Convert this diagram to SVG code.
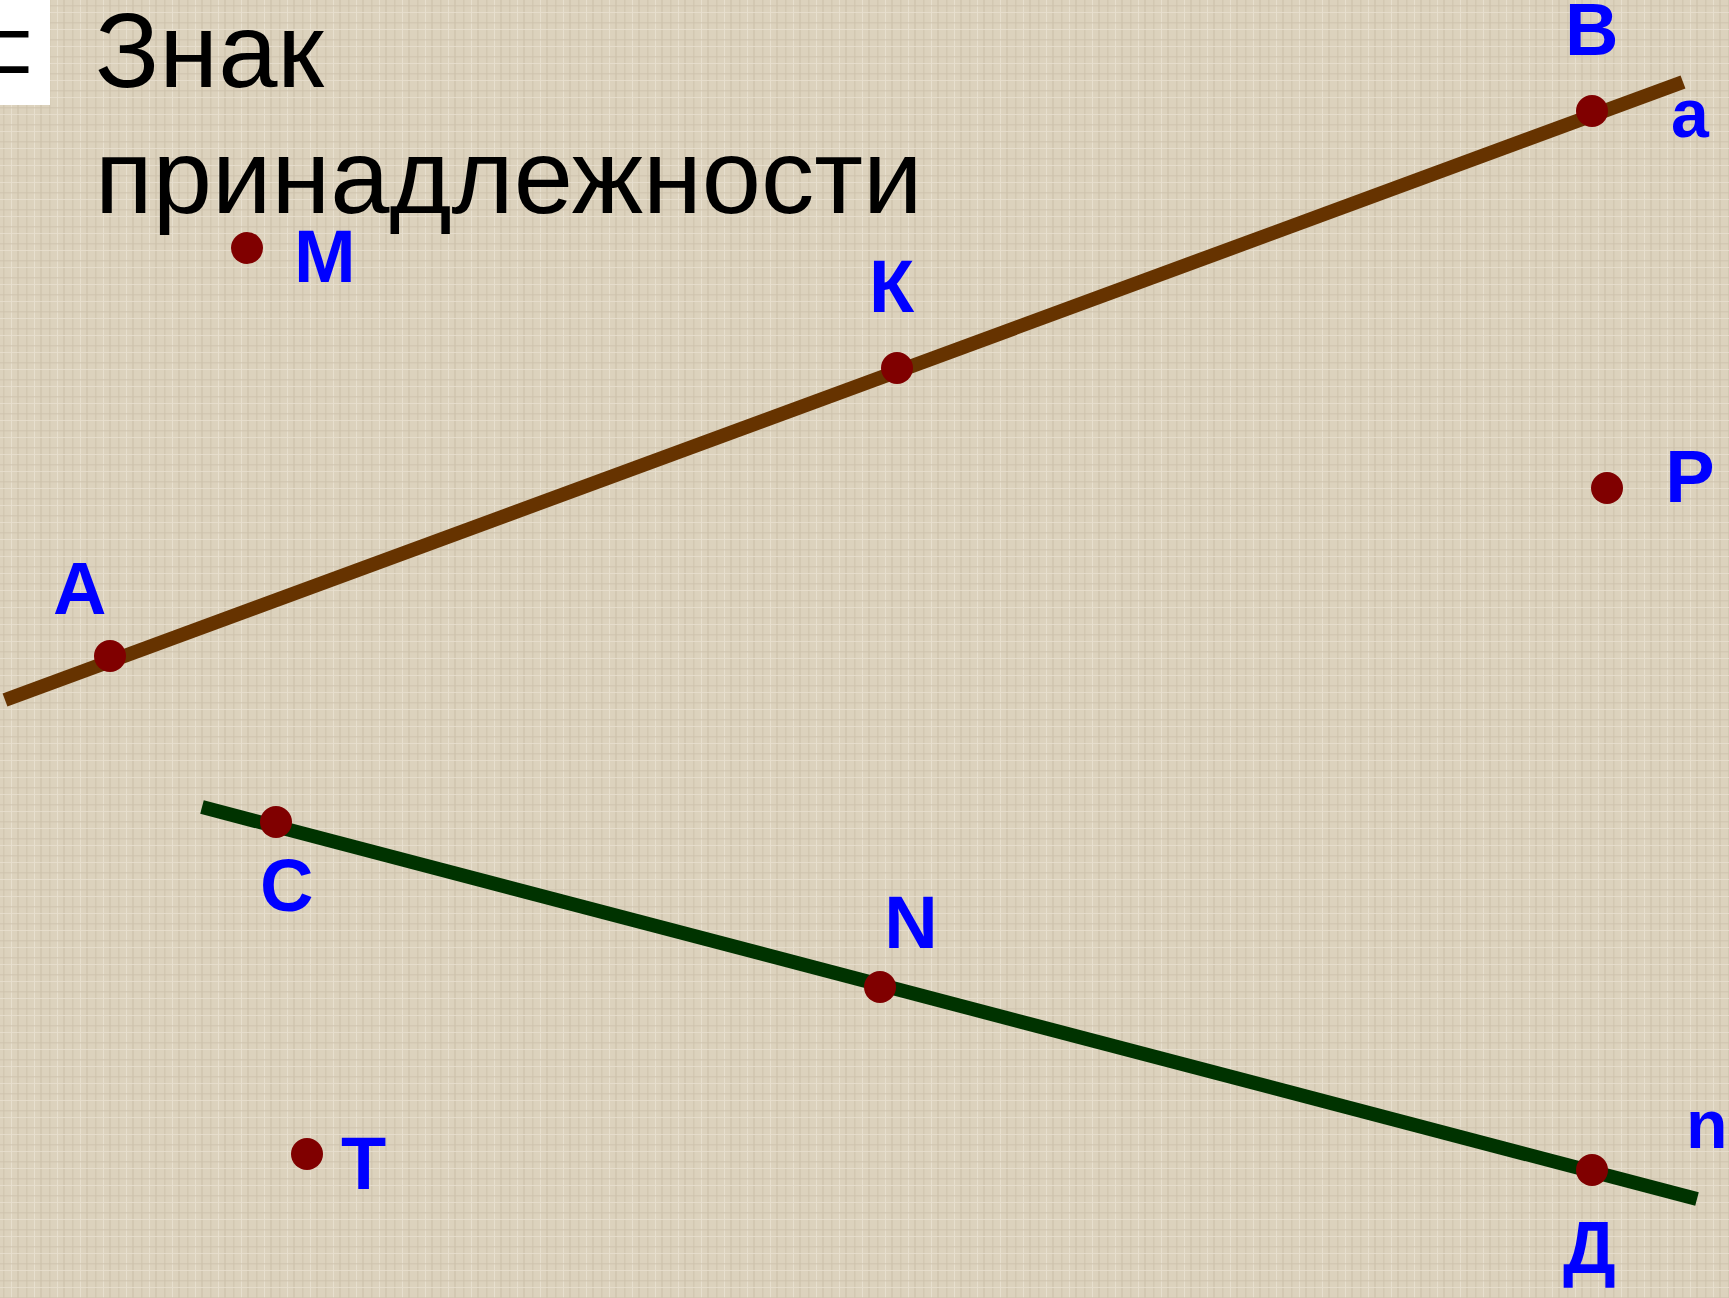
<svg xmlns="http://www.w3.org/2000/svg" width="1729" height="1298" viewBox="0 0 1729 1298">
<style>
.lbl{font-family:"Liberation Sans",Arial,sans-serif;font-weight:bold;font-size:74px;fill:#0000FF}
.sm{font-size:68px}
.title{font-family:"Liberation Sans",Arial,sans-serif;font-size:106.5px;fill:#000000}
.dot{fill:#800000}
</style>
<defs>
<pattern id="tex" width="23" height="17" patternUnits="userSpaceOnUse">
<rect width="23" height="17" fill="#DCD2BD"/>
<rect x="3" width="1.5" height="17" fill="#CFC4AE" opacity="0.7"/>
<rect x="11" width="1" height="17" fill="#EAE2D2" opacity="0.8"/>
<rect x="17" width="2" height="17" fill="#C9BEA7" opacity="0.5"/>
<rect y="5" width="23" height="1.5" fill="#CDC2AB" opacity="0.6"/>
<rect y="12" width="23" height="1" fill="#E8E0CF" opacity="0.8"/>
</pattern>
<clipPath id="boxclip"><rect x="0" y="0" width="50" height="105"/></clipPath>
</defs>
<rect width="1729" height="1298" fill="url(#tex)"/>
<g id="icon">
<rect x="0" y="0" width="50" height="105" fill="#FFFFFF"/>
<text x="-38" y="80" clip-path="url(#boxclip)" style="font-family:'DejaVu Sans',sans-serif;font-size:90px;fill:#000">⊂</text>
</g>
<g id="title">
<text class="title" x="95" y="87">Знак</text>
<text class="title" x="95" y="213">принадлежности</text>
</g>
<g id="connectors">
<line id="line-a" x1="5" y1="700" x2="1683" y2="82" stroke="#663300" stroke-width="14"/>
<line id="line-n" x1="202" y1="807" x2="1697" y2="1199" stroke="#003300" stroke-width="14"/>
</g>
<g id="label-a"><text class="lbl sm" x="1671" y="137">a</text></g>
<g id="label-n"><text class="lbl sm" x="1686" y="1148">n</text></g>
<g id="node-A"><circle class="dot" cx="110" cy="656" r="16"/><text class="lbl" x="53" y="614">A</text></g>
<g id="node-B"><circle class="dot" cx="1592" cy="111" r="16"/><text class="lbl" x="1565" y="55">B</text></g>
<g id="node-K"><circle class="dot" cx="897" cy="368" r="16"/><text class="lbl" x="869" y="312">К</text></g>
<g id="node-M"><circle class="dot" cx="247" cy="248" r="16"/><text class="lbl" x="294" y="282">M</text></g>
<g id="node-P"><circle class="dot" cx="1607" cy="488" r="16"/><text class="lbl" x="1690" y="502" text-anchor="middle">P</text></g>
<g id="node-C"><circle class="dot" cx="276" cy="822" r="16"/><text class="lbl" x="260" y="911">C</text></g>
<g id="node-N"><circle class="dot" cx="880" cy="987" r="16"/><text class="lbl" x="911" y="948" text-anchor="middle">N</text></g>
<g id="node-D"><circle class="dot" cx="1592" cy="1170" r="16"/><text class="lbl" x="1563" y="1273">Д</text></g>
<g id="node-T"><circle class="dot" cx="307" cy="1154" r="16"/><text class="lbl" x="341" y="1189">T</text></g>
</svg>
